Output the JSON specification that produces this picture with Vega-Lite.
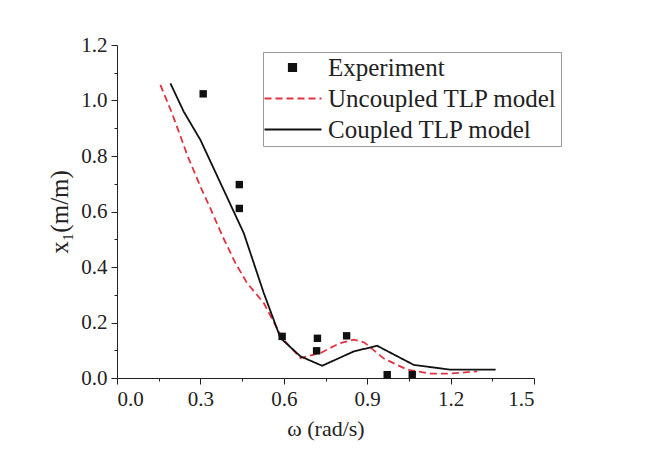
{
  "$schema": "https://vega.github.io/schema/vega-lite/v6.json",
  "width": 417,
  "height": 333,
  "autosize": {"type": "none"},
  "padding": {"left": 117, "top": 45, "right": 136, "bottom": 72},
  "background": "white",
  "config": {
    "view": {"stroke": null},
    "font": "Liberation Serif",
    "axis": {
      "grid": false,
      "domainColor": "#222",
      "tickColor": "#222",
      "labelColor": "#222",
      "titleColor": "#222",
      "labelFont": "Liberation Serif",
      "titleFont": "Liberation Serif",
      "labelFontSize": 21,
      "titleFontSize": 22,
      "titleFontWeight": "normal"
    }
  },
  "data": {
    "values": [
      {"series": "Experiment", "w": 0.31, "x1": 1.024},
      {"series": "Experiment", "w": 0.44, "x1": 0.697},
      {"series": "Experiment", "w": 0.44, "x1": 0.611},
      {"series": "Experiment", "w": 0.594, "x1": 0.150},
      {"series": "Experiment", "w": 0.721, "x1": 0.143},
      {"series": "Experiment", "w": 0.718, "x1": 0.098},
      {"series": "Experiment", "w": 0.826, "x1": 0.152},
      {"series": "Experiment", "w": 0.972, "x1": 0.012},
      {"series": "Experiment", "w": 1.062, "x1": 0.012},

      {"series": "Uncoupled TLP model", "w": 0.156, "x1": 1.056},
      {"series": "Uncoupled TLP model", "w": 0.198, "x1": 0.954},
      {"series": "Uncoupled TLP model", "w": 0.254, "x1": 0.80},
      {"series": "Uncoupled TLP model", "w": 0.30, "x1": 0.69},
      {"series": "Uncoupled TLP model", "w": 0.336, "x1": 0.611},
      {"series": "Uncoupled TLP model", "w": 0.38, "x1": 0.51},
      {"series": "Uncoupled TLP model", "w": 0.426, "x1": 0.414},
      {"series": "Uncoupled TLP model", "w": 0.468, "x1": 0.342},
      {"series": "Uncoupled TLP model", "w": 0.528, "x1": 0.27},
      {"series": "Uncoupled TLP model", "w": 0.594, "x1": 0.144},
      {"series": "Uncoupled TLP model", "w": 0.66, "x1": 0.072},
      {"series": "Uncoupled TLP model", "w": 0.732, "x1": 0.09},
      {"series": "Uncoupled TLP model", "w": 0.80, "x1": 0.125},
      {"series": "Uncoupled TLP model", "w": 0.852, "x1": 0.138},
      {"series": "Uncoupled TLP model", "w": 0.89, "x1": 0.128},
      {"series": "Uncoupled TLP model", "w": 0.96, "x1": 0.07},
      {"series": "Uncoupled TLP model", "w": 1.044, "x1": 0.03},
      {"series": "Uncoupled TLP model", "w": 1.128, "x1": 0.016},
      {"series": "Uncoupled TLP model", "w": 1.2, "x1": 0.016},
      {"series": "Uncoupled TLP model", "w": 1.296, "x1": 0.024},

      {"series": "Coupled TLP model", "w": 0.192, "x1": 1.062},
      {"series": "Coupled TLP model", "w": 0.24, "x1": 0.96},
      {"series": "Coupled TLP model", "w": 0.30, "x1": 0.858},
      {"series": "Coupled TLP model", "w": 0.456, "x1": 0.522},
      {"series": "Coupled TLP model", "w": 0.528, "x1": 0.306},
      {"series": "Coupled TLP model", "w": 0.588, "x1": 0.144},
      {"series": "Coupled TLP model", "w": 0.66, "x1": 0.078},
      {"series": "Coupled TLP model", "w": 0.738, "x1": 0.044},
      {"series": "Coupled TLP model", "w": 0.852, "x1": 0.096},
      {"series": "Coupled TLP model", "w": 0.936, "x1": 0.116},
      {"series": "Coupled TLP model", "w": 1.068, "x1": 0.047},
      {"series": "Coupled TLP model", "w": 1.2, "x1": 0.03},
      {"series": "Coupled TLP model", "w": 1.362, "x1": 0.03}
    ]
  },
  "encoding": {
    "x": {
      "field": "w", "type": "quantitative",
      "scale": {"domain": [0, 1.5], "nice": false, "zero": false},
      "axis": {
        "title": "ω (rad/s)",
        "values": [0, 0.15, 0.3, 0.45, 0.6, 0.75, 0.9, 1.05, 1.2, 1.35, 1.5],
        "labelExpr": "abs(datum.value/0.3 - round(datum.value/0.3)) < 0.01 ? format(datum.value, '.1f') : ''",
        "tickSize": {"condition": {"test": "abs(datum.value/0.3 - round(datum.value/0.3)) < 0.01", "value": 6}, "value": 3},
        "labelPadding": 4,
        "titlePadding": 9
      }
    },
    "y": {
      "field": "x1", "type": "quantitative",
      "scale": {"domain": [0, 1.2], "nice": false},
      "axis": {
        "title": "x₁(m/m)",
        "titleFontSize": 25,
        "values": [0, 0.1, 0.2, 0.3, 0.4, 0.5, 0.6, 0.7, 0.8, 0.9, 1.0, 1.1, 1.2],
        "labelExpr": "abs(datum.value/0.2 - round(datum.value/0.2)) < 0.01 ? format(datum.value, '.1f') : ''",
        "tickSize": {"condition": {"test": "abs(datum.value/0.2 - round(datum.value/0.2)) < 0.01", "value": 6}, "value": 3},
        "labelPadding": 4,
        "titlePadding": 8
      }
    },
    "color": {
      "field": "series", "type": "nominal",
      "scale": {
        "domain": ["Experiment", "Uncoupled TLP model", "Coupled TLP model"],
        "range": ["#111", "#e2323f", "#111"]
      },
      "legend": {
        "title": null,
        "orient": "none",
        "legendX": 146,
        "legendY": 7,
        "padding": 3,
        "strokeColor": "#999",
        "fillColor": "white",
        "labelFont": "Liberation Serif",
        "labelFontSize": 25,
        "labelColor": "#222",
        "labelOffset": 37,
        "rowPadding": 5,
        "symbolSize": 64,
        "symbolStrokeWidth": 2,
        "labelLimit": 400
      }
    },
    "shape": {
      "field": "series", "type": "nominal",
      "scale": {
        "domain": ["Experiment", "Uncoupled TLP model", "Coupled TLP model"],
        "range": ["M2.6,-0.9H4.4V0.9H2.6Z", "M-3.5,0H10.75", "M-3.5,0H10.75"]
      },
      "legend": null
    },
    "strokeDash": {
      "field": "series", "type": "nominal",
      "scale": {
        "domain": ["Experiment", "Uncoupled TLP model", "Coupled TLP model"],
        "range": [[1, 0], [7, 4], [1, 0]]
      },
      "legend": null
    }
  },
  "layer": [
    {
      "transform": [{"filter": "datum.series != 'Experiment'"}],
      "mark": {"type": "line", "strokeWidth": 1.8},
      "encoding": {"order": {"field": "w", "type": "quantitative"}}
    },
    {
      "transform": [{"filter": "datum.series == 'Experiment'"}],
      "mark": {"type": "point", "filled": true, "size": 55, "opacity": 1, "shape": "square"},
      "encoding": {"shape": {"value": "square"}, "strokeDash": {"value": [1, 0]}}
    }
  ]
}
